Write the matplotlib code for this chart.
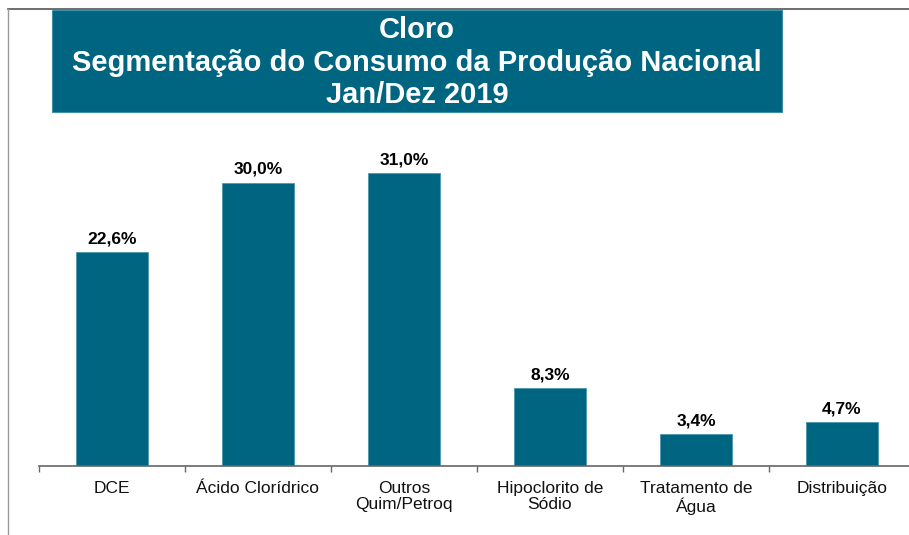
import matplotlib.pyplot as plt
from matplotlib.patches import Rectangle
from matplotlib.lines import Line2D

categorias = ["DCE", "Ácido Clorídrico", "Outros\nQuim/Petroq",
              "Hipoclorito de\nSódio", "Tratamento de\nÁgua", "Distribuição"]
valores = [22.6, 30.0, 31.0, 8.3, 3.4, 4.7]
rotulos = ["22,6%", "30,0%", "31,0%", "8,3%", "3,4%", "4,7%"]

titulo = ["Cloro", "Segmentação do Consumo da Produção Nacional", "Jan/Dez 2019"]

COR = "#006580"
W, H = 909, 535

plt.rcParams["font.family"] = ["Liberation Sans", "DejaVu Sans"]

fig = plt.figure(figsize=(W / 100, H / 100), dpi=100)
fig.patch.set_facecolor("white")

# moldura (linha superior e esquerda)
fig.add_artist(Line2D([8 / W, 1], [1 - 9 / H, 1 - 9 / H], color="#555555", lw=1.2))
fig.add_artist(Line2D([8 / W, 8 / W], [1 - 9 / H, 0], color="#999999", lw=1.0))

# caixa do titulo
fig.add_artist(Rectangle((52 / W, 1 - 112 / H), 730 / W, 102 / H,
                         facecolor=COR, edgecolor="#3f8fa8", lw=0.8))
for txt, yc in zip(titulo, [30, 63, 95]):
    fig.text(417 / W, 1 - yc / H, txt, color="white", fontsize=21,
             fontweight="bold", ha="center", va="center")

# eixo
px_por_un = 9.45
x0, x1 = 39, 909
base, topo = 466, 130
ax = fig.add_axes([x0 / W, 1 - base / H, (x1 - x0) / W, (base - topo) / H])
passo = 146
ax.set_xlim(-0.5, -0.5 + (x1 - x0) / passo)
ax.set_ylim(0, (base - topo) / px_por_un)

pos = list(range(len(categorias)))
barras = ax.bar(pos, valores, width=0.49, color=COR, edgecolor="#4c97ae", linewidth=0.6)

for b, r in zip(barras, rotulos):
    ax.annotate(r, (b.get_x() + b.get_width() / 2, b.get_height()),
                xytext=(0, 4), textcoords="offset points",
                ha="center", va="bottom", fontsize=12.5, fontweight="bold")

for s in ["left", "top", "right"]:
    ax.spines[s].set_visible(False)
ax.spines["bottom"].set_color("#666666")
ax.spines["bottom"].set_linewidth(1.2)
ax.set_yticks([])

ax.set_xticks(pos)
ax.set_xticklabels(categorias, fontsize=12.5, color="#111111", linespacing=1.1)
ax.tick_params(axis="x", which="major", length=0, pad=11)
ax.set_xticks([p - 0.5 for p in pos], minor=True)
ax.tick_params(axis="x", which="minor", length=4, width=1, color="#666666")

fig.savefig("out.png", dpi=100)
